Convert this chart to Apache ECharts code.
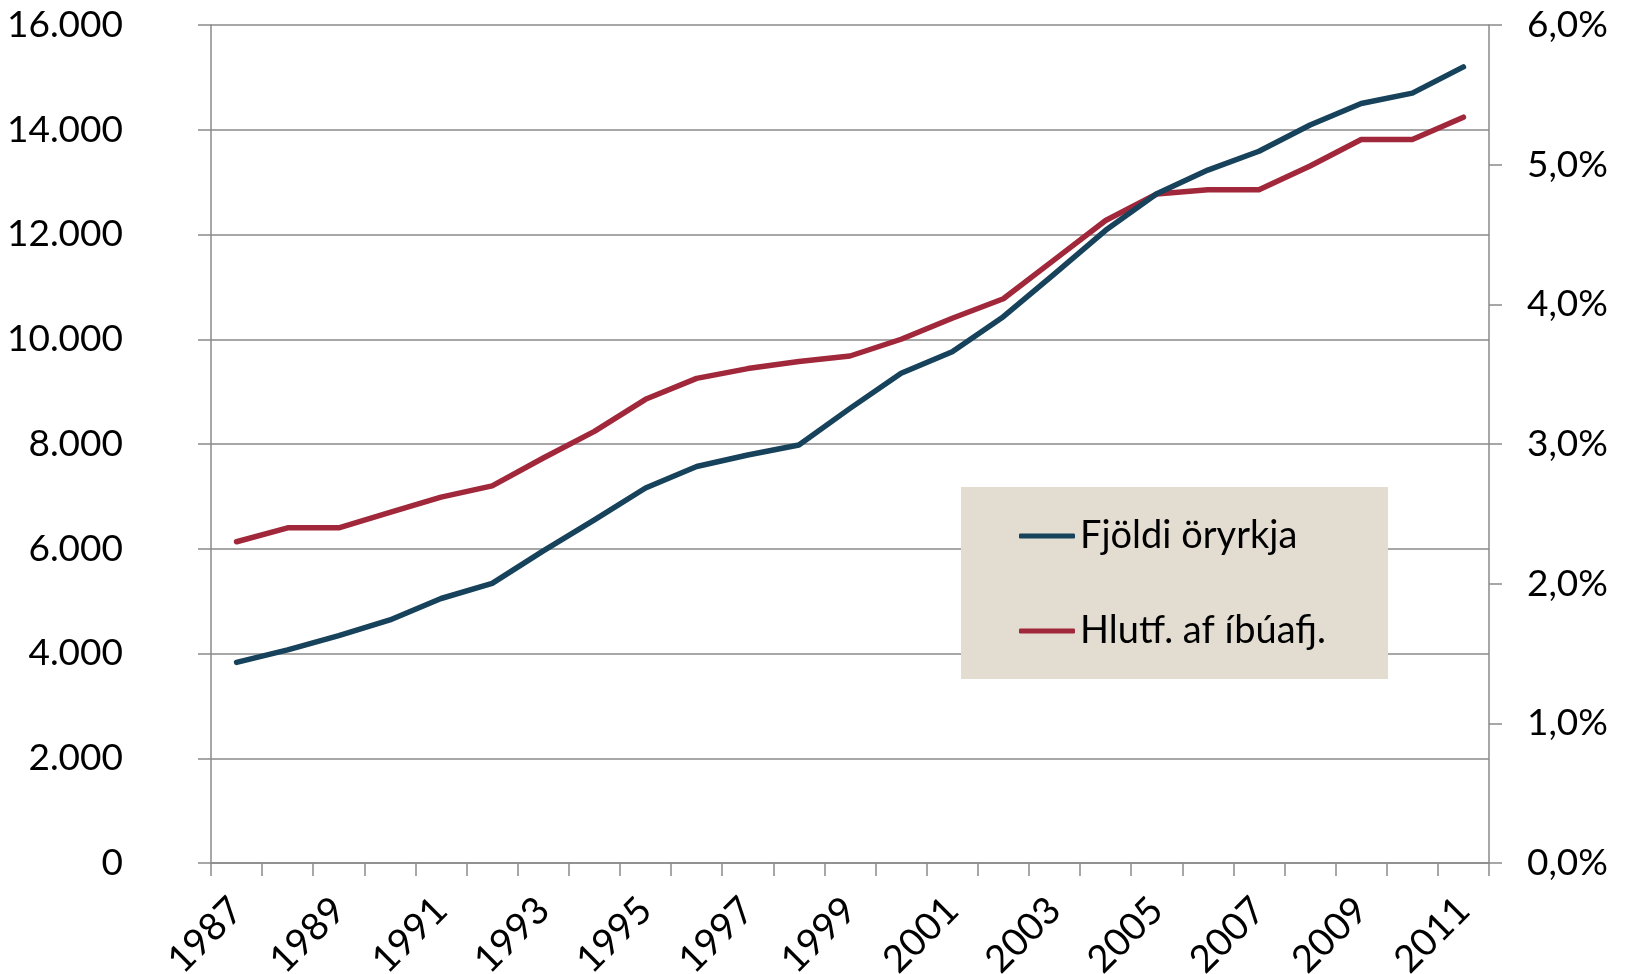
<!DOCTYPE html>
<html>
<head>
<meta charset="utf-8">
<script src="https://cdn.jsdelivr.net/npm/echarts@6/dist/echarts.min.js"></script>
<style>
  html, body { margin: 0; padding: 0; background: #fff; }
  #chart { width: 1628px; height: 974px; }
</style>
</head>
<body>
<div id="chart"></div>
<script>
// ár
const years = ['1987','1988','1989','1990','1991','1992','1993','1994','1995','1996','1997','1998',
    '1999','2000','2001','2002','2003','2004','2005','2006','2007','2008','2009','2010','2011'];
// Fjöldi öryrkja
const fjoldi = [3830, 4070, 4340, 4640, 5050, 5340, 5960, 6550, 7160, 7570, 7790, 7980,
    8680, 9350, 9760, 10430, 11250, 12080, 12780, 13230, 13590, 14090, 14500, 14700, 15200];
// Hlutf. af íbúafjölda (%)
const hlutfall = [2.30, 2.40, 2.40, 2.51, 2.62, 2.70, 2.90, 3.09, 3.32, 3.47, 3.54, 3.59,
    3.63, 3.75, 3.90, 4.04, 4.32, 4.60, 4.79, 4.82, 4.82, 4.99, 5.18, 5.18, 5.34];
const seriesNames = ['Fjöldi öryrkja', 'Hlutf. af íbúafj.'];

const font = 'Lato, "DejaVu Sans", sans-serif';
const gray = '#8a8a8a';

const option = {
    animation: false,
    backgroundColor: '#fff',
    textStyle: { fontFamily: font, color: '#000' },
    color: ['#17425c', '#a1283a'],
    grid: { left: 211, right: 139, top: 25, bottom: 111, containLabel: false, outerBoundsMode: 'none' },
    legend: {
        orient: 'vertical',
        left: 961,
        top: 487,
        padding: [30, 62, 29, 58],
        itemGap: 57,
        itemWidth: 56,
        itemHeight: 5,
        icon: 'roundRect',
        backgroundColor: '#e3ddd1',
        textStyle: { fontSize: 38, color: '#000', fontFamily: font },
        data: seriesNames
    },
    xAxis: {
        type: 'category',
        boundaryGap: true,
        data: years,
        axisLine: { lineStyle: { color: gray, width: 1.5 } },
        axisTick: { show: true, interval: 0, length: 13, lineStyle: { color: gray, width: 1.5 } },
        axisLabel: { interval: 1, rotate: 45, margin: 41, fontSize: 38, color: '#000' }
    },
    yAxis: [
        {
            type: 'value',
            min: 0,
            max: 16000,
            interval: 2000,
            axisLine: { show: true, lineStyle: { color: gray, width: 1.5 } },
            axisTick: { show: true, length: 13, lineStyle: { color: gray, width: 1.5 } },
            splitLine: { lineStyle: { color: gray, width: 1.5 } },
            axisLabel: {
                margin: 88,
                fontSize: 37,
                color: '#000',
                formatter: v => String(v).replace(/\B(?=(\d{3})+(?!\d))/g, '.')
            }
        },
        {
            type: 'value',
            min: 0,
            max: 6,
            interval: 1,
            position: 'right',
            axisLine: { show: true, lineStyle: { color: gray, width: 1.5 } },
            axisTick: { show: true, length: 13, lineStyle: { color: gray, width: 1.5 } },
            splitLine: { show: false },
            axisLabel: {
                margin: 38,
                fontSize: 37,
                color: '#000',
                formatter: v => v.toFixed(1).replace('.', ',') + '%'
            }
        }
    ],
    series: [
        {
            name: seriesNames[0],
            type: 'line',
            data: fjoldi,
            yAxisIndex: 0,
            symbol: 'none',
            lineStyle: { width: 5.5, cap: 'round', join: 'round' },
            z: 3
        },
        {
            name: seriesNames[1],
            type: 'line',
            data: hlutfall,
            yAxisIndex: 1,
            symbol: 'none',
            lineStyle: { width: 5.5, cap: 'round', join: 'round' },
            z: 2
        }
    ]
};

const chart = echarts.init(document.getElementById('chart'));
chart.setOption(option);
</script>
</body>
</html>
